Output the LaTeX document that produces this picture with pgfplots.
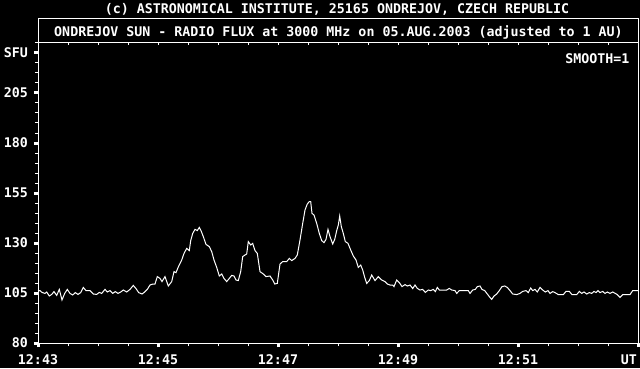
\documentclass[border=0pt]{standalone}
\usepackage{pgfplots}
\usepackage{pgfplotstable}
\pgfplotsset{compat=1.18}
\usepackage{fontspec}
\setmainfont{DejaVu Sans Mono}
\newcommand{\pf}{\fontsize{13.3bp}{16bp}\selectfont\bfseries}

\pgfplotstableread{
t f
0 106.0
2 106.2
4 105.3
7 104.8
8.7 105.5
11.3 103.5
13.7 104.3
16 105.7
18.7 103.8
21.3 106.8
24 101.5
26.7 104.8
29.3 106.8
32 104.8
34.7 104.0
37.3 105.2
40 104.3
42.7 105.2
45.3 107.8
48 106.2
52 106.2
55.3 104.5
58.7 104.3
61.3 105.3
63.7 104.8
67 106.8
69.3 105.5
72 106.2
74.7 104.8
77.3 105.7
80 104.8
82.7 105.5
85.3 106.5
88.7 105.5
92 106.8
95.3 108.8
98 107.2
100.7 105.2
104 104.5
106.7 105.5
109.3 106.8
112 109.0
115 109.5
117 109.5
119.3 113.2
122 112.3
124 110.7
127 113.2
130.3 108.5
133.7 110.7
136 115.7
138 115.2
140.7 118.5
143.7 121.5
146 124.8
148.7 127.3
151.3 126.2
152.7 131.2
154.7 134.8
157 136.8
159.3 136.2
161.3 137.8
163 136.2
165.3 133.2
168 129.3
171.3 128.2
173.7 125.7
176 121.5
178.7 117.8
181.3 113.5
183.7 114.5
186 112.3
188.7 110.7
191.3 112.3
193.7 113.8
196 113.5
198 111.5
200.3 111.2
202.7 115.7
204.7 123.2
207 124.0
208.7 124.5
210.3 130.7
212.7 129.0
214.7 129.8
217 126.2
219.3 124.8
222 115.7
225.3 114.5
228 113.2
232 113.5
234.7 111.5
236.7 109.5
239.3 109.8
242 119.5
244.7 120.7
248.7 120.7
251.3 122.3
253.7 121.2
257 122.3
259.3 124.0
262 131.5
264.7 139.8
267 146.5
269.3 149.5
271.3 150.7
272.7 150.7
274 144.8
276 144.0
278.7 139.8
281.3 134.8
283.7 131.2
286 130.2
288 131.8
290 136.8
292 133.2
294.7 129.5
296.7 131.8
298.7 136.2
300.3 139.0
301.7 143.5
303.3 138.2
305.3 134.8
307.3 130.7
310 129.8
312.7 126.5
315.3 123.5
318 121.5
320.3 117.8
322.7 119.0
324.7 116.5
326.7 112.8
328.7 109.8
331.3 111.2
333.7 114.0
337 111.2
340.3 113.2
343.7 111.5
347 110.7
349.3 109.5
352 109.0
354.7 109.0
356 108.2
358.7 111.5
361.3 110.2
364 108.2
367 109.2
369.3 108.5
372 109.0
374.7 107.2
377 109.0
379.3 107.3
382 106.5
384.7 106.8
387.3 105.3
390.3 106.5
392.7 106.2
395.3 106.8
397.3 105.7
399.3 107.8
401.3 106.5
404.7 106.5
408.7 106.5
411.3 107.3
413.7 106.5
417 106.2
418.7 104.8
421.3 106.2
425.3 106.2
430.3 106.2
432 104.8
434.7 106.5
437.3 106.8
439.3 108.2
442 108.5
444 106.8
446.7 106.2
449.3 104.5
451.3 103.2
453.7 101.8
456 103.5
458.7 104.5
461.3 106.2
464 108.2
466.7 108.5
469.3 107.8
472 106.2
474.7 104.5
478.7 104.2
482 104.8
484.7 105.8
488 106.2
490.3 105.2
492.7 107.5
494.7 106.2
497 106.8
499.3 105.5
502 107.8
504.7 106.5
507.3 105.5
510 106.2
512 104.8
514.7 105.7
517 105.2
520.3 104.2
525.3 104.2
528 105.8
531.3 105.8
534 104.2
538.7 104.2
541.3 105.8
543.7 104.8
546 105.5
548.7 104.5
551.3 105.2
553.7 104.8
556 105.8
558 105.2
560 106.2
562 105.2
564.7 105.8
567 104.8
569.3 105.5
572 104.8
574.7 105.5
577.3 104.8
579.3 104.2
582 102.8
584.7 104.2
588.7 104.2
592 104.2
594.7 106.2
598.7 106.2
600 106.2
}\flux

\begin{document}
\begin{tikzpicture}[x=1bp,y=1bp]
\fill[black] (0,0) rectangle (640,368);
\useasboundingbox (0,0) rectangle (640,368);
\begin{axis}[
  at={(38bp,25bp)}, anchor=south west,
  scale only axis, width=600bp, height=300bp,
  xmin=0, xmax=600, ymin=80, ymax=230,
  axis line style={white, line width=1bp},
  xtick={0,120,240,360,480},
  xticklabels={12:43,12:45,12:47,12:49,12:51},
  extra x ticks={600}, extra x tick labels={UT},
  extra x tick style={xticklabel style={anchor=base east, xshift=-1bp}},
  minor xtick={30,60,...,600},
  ytick={80,105,130,155,180,205,225},
  yticklabels={80,105,130,155,180,205,SFU},
  minor ytick={85,90,...,230},
  xtick pos=bottom, ytick pos=left, tick align=outside,
  major tick length=4bp, minor tick length=3bp,
  every tick/.style={white},
  major tick style={white, line width=3bp},
  minor tick style={white, line width=1bp},
  tick label style={white, font=\pf, inner sep=0pt},
  xticklabel style={anchor=base, yshift=-17bp},
  yticklabel style={anchor=east, xshift=-6bp},
  clip=false,
]
\addplot[white, line width=1bp, mark=none] table[x=t, y=f] {\flux};
\end{axis}
\begin{axis}[
  at={(38bp,25bp)}, anchor=south west,
  scale only axis, width=600bp, height=300bp,
  xmin=0, xmax=600, ymin=80, ymax=230,
  axis x line*=top, axis y line=none,
  axis line style={white, line width=1bp},
  xtick={0,30,...,600}, xticklabels={},
  tick align=inside, major tick length=2bp,
  every tick/.style={white, line width=1bp},
]
\end{axis}
\draw[white, line width=1bp] (38,25) rectangle (638,349);
\node[white, font=\pf, anchor=base, inner sep=0pt] at (337,355) {(c) ASTRONOMICAL INSTITUTE, 25165 ONDREJOV, CZECH REPUBLIC};
\node[white, font=\pf, anchor=base, inner sep=0pt] at (338.5,332) {ONDREJOV SUN - RADIO FLUX at 3000 MHz on 05.AUG.2003 (adjusted to 1 AU)};
\node[white, font=\pf, anchor=base east, inner sep=0pt] at (629.5,305) {SMOOTH=1};
\end{tikzpicture}
\end{document}
